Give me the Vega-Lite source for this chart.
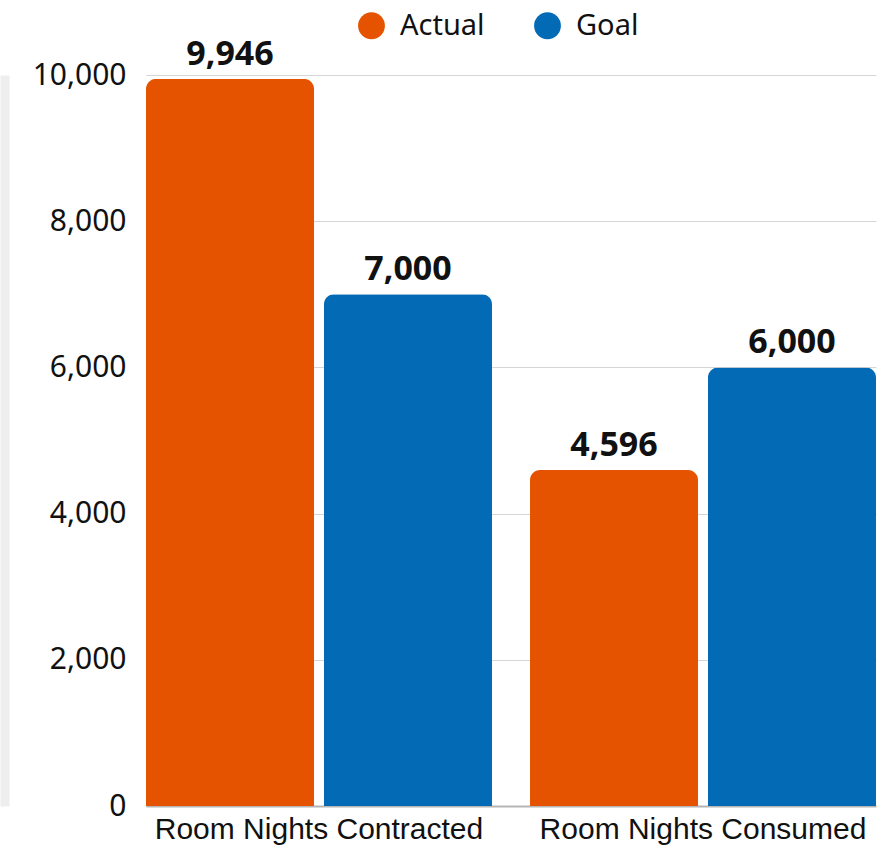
{
  "$schema": "https://vega.github.io/schema/vega-lite/v6.json",
  "autosize": "none",
  "width": 730,
  "height": 731,
  "padding": {"left": 146, "top": 75, "right": 5, "bottom": 44},
  "background": "white",
  "config": {"view": {"stroke": null}},
  "data": {"values": [
    {"metric": "Room Nights Contracted", "series": "Actual", "value": 9946},
    {"metric": "Room Nights Contracted", "series": "Goal", "value": 7000},
    {"metric": "Room Nights Consumed", "series": "Actual", "value": 4596},
    {"metric": "Room Nights Consumed", "series": "Goal", "value": 6000}
  ]},
  "encoding": {
    "x": {"field": "metric", "type": "nominal", "sort": null,
      "scale": {"paddingInner": 0.099, "paddingOuter": 0},
      "axis": {"title": null, "labelAngle": 0, "labelFont": "Liberation Sans", "labelFontSize": 30, "labelLimit": 0, "labelColor": "#111", "labelPadding": 8, "ticks": false, "domainColor": "#b5b5b5", "domainWidth": 2}},
    "xOffset": {"field": "series", "type": "nominal", "scale": {"paddingInner": 0.056, "paddingOuter": 0}},
    "y": {"field": "value", "type": "quantitative", "scale": {"domain": [0, 10000]}}
  },
  "layer": [
    {
      "mark": {"type": "bar", "cornerRadiusTopLeft": 10, "cornerRadiusTopRight": 10},
      "encoding": {
        "y": {"field": "value", "type": "quantitative", "scale": {"domain": [0, 10000]},
          "axis": {"title": null, "values": [0, 2000, 4000, 6000, 8000, 10000], "format": ",d", "labelOverlap": false, "labelFont": "Noto Sans", "labelFontSize": 30, "labelColor": "#111", "labelPadding": 20, "ticks": false, "domain": false, "gridColor": "#d6d6d6", "gridWidth": 1.2}},
        "color": {"field": "series", "type": "nominal",
          "scale": {"domain": ["Actual", "Goal"], "range": ["#E55300", "#036AB5"]},
          "legend": {"title": null, "orient": "none", "legendX": 211, "legendY": -64, "direction": "horizontal", "symbolType": "circle", "symbolSize": 720, "symbolStrokeWidth": 0, "labelFont": "Noto Sans", "labelFontSize": 29, "labelColor": "#111", "labelOffset": 14, "columnPadding": 48}}
      }
    },
    {
      "mark": {"type": "text", "baseline": "alphabetic", "dy": -14, "font": "Noto Sans", "fontWeight": "bold", "fontSize": 34, "color": "#111"},
      "encoding": {
        "y": {"field": "value", "type": "quantitative", "scale": {"domain": [0, 10000]},
          "axis": {"title": null, "orient": "left", "offset": 141.5, "labels": false, "ticks": false, "grid": false, "domain": true, "domainColor": "#eeeeee", "domainWidth": 9}},
        "text": {"field": "value", "type": "quantitative", "format": ",d"}
      }
    }
  ],
  "resolve": {"axis": {"y": "independent"}}
}
